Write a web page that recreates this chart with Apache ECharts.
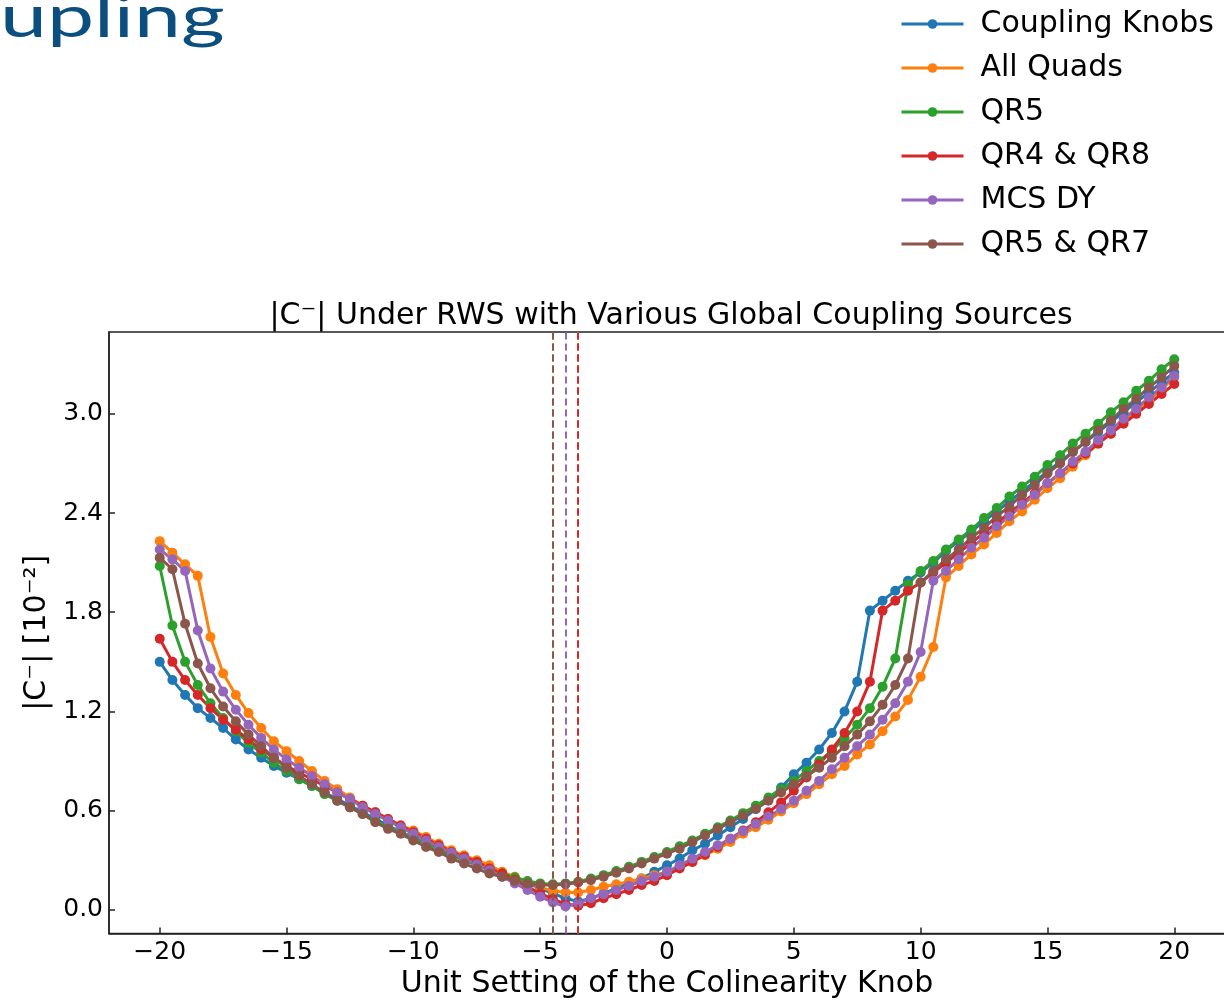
<!DOCTYPE html>
<html>
<head>
<meta charset="utf-8">
<script src="https://cdn.jsdelivr.net/npm/echarts@6/dist/echarts.min.js"></script>
<style>
  html, body { margin: 0; padding: 0; background: #fff; }
  #chart { width: 1224px; height: 1000px; }
</style>
</head>
<body>
<div id="chart"></div>
<script>
// Knob settings (unit steps of the colinearity knob)
const knob = [-20,-19.5,-19,-18.5,-18,-17.5,-17,-16.5,-16,-15.5,-15,-14.5,-14,-13.5,-13,-12.5,-12,-11.5,-11,-10.5,
  -10,-9.5,-9,-8.5,-8,-7.5,-7,-6.5,-6,-5.5,-5,-4.5,-4,-3.5,-3,-2.5,-2,-1.5,-1,-0.5,
  0,0.5,1,1.5,2,2.5,3,3.5,4,4.5,5,5.5,6,6.5,7,7.5,8,8.5,9,9.5,
  10,10.5,11,11.5,12,12.5,13,13.5,14,14.5,15,15.5,16,16.5,17,17.5,18,18.5,19,19.5,20];

// |C-| in units of 1e-2 for each coupling source
const couplingKnobs = [1.50,1.39,1.30,1.22,1.16,1.10,1.03,0.97,0.92,0.87,0.83,0.79,0.75,0.71,0.67,0.63,0.59,0.55,0.51,0.47,
  0.44,0.40,0.37,0.34,0.31,0.28,0.25,0.22,0.19,0.16,0.13,0.10,0.07,0.05,0.07,0.10,0.13,0.16,0.19,0.23,
  0.27,0.31,0.36,0.40,0.45,0.50,0.55,0.61,0.67,0.74,0.82,0.89,0.97,1.07,1.20,1.38,1.81,1.87,1.93,1.99,
  2.04,2.10,2.17,2.23,2.29,2.35,2.41,2.47,2.53,2.59,2.65,2.71,2.77,2.83,2.89,2.95,3.01,3.07,3.13,3.19,3.25];

const allQuads = [2.23,2.16,2.09,2.02,1.65,1.43,1.30,1.19,1.10,1.02,0.96,0.90,0.84,0.78,0.73,0.68,0.63,0.59,0.55,0.51,
  0.48,0.44,0.40,0.36,0.33,0.30,0.27,0.23,0.20,0.17,0.135,0.115,0.105,0.105,0.12,0.14,0.155,0.17,0.19,0.21,
  0.23,0.26,0.29,0.33,0.37,0.41,0.46,0.50,0.545,0.595,0.645,0.70,0.76,0.82,0.87,0.94,1.00,1.08,1.17,1.27,
  1.41,1.59,2.01,2.08,2.15,2.21,2.28,2.35,2.41,2.48,2.55,2.61,2.68,2.75,2.82,2.88,2.95,3.02,3.08,3.15,3.22];

const qr5 = [2.08,1.72,1.50,1.36,1.25,1.16,1.08,1.01,0.95,0.89,0.84,0.79,0.75,0.70,0.66,0.62,0.58,0.54,0.50,0.47,
  0.43,0.40,0.36,0.33,0.30,0.27,0.245,0.22,0.195,0.175,0.16,0.155,0.16,0.17,0.19,0.21,0.235,0.26,0.29,0.32,
  0.35,0.385,0.42,0.46,0.50,0.54,0.585,0.63,0.68,0.73,0.78,0.84,0.90,0.96,1.04,1.12,1.22,1.35,1.52,1.97,
  2.05,2.11,2.18,2.24,2.30,2.37,2.43,2.50,2.56,2.62,2.69,2.75,2.82,2.88,2.94,3.01,3.07,3.14,3.20,3.27,3.33];

const qr4qr8 = [1.64,1.50,1.39,1.30,1.22,1.15,1.09,1.03,0.97,0.92,0.87,0.83,0.79,0.75,0.71,0.67,0.63,0.59,0.55,0.51,
  0.47,0.43,0.39,0.35,0.32,0.29,0.25,0.22,0.18,0.14,0.10,0.065,0.035,0.025,0.04,0.07,0.095,0.12,0.15,0.175,
  0.21,0.25,0.29,0.335,0.38,0.43,0.48,0.53,0.59,0.65,0.72,0.80,0.88,0.97,1.07,1.20,1.38,1.81,1.87,1.93,
  1.98,2.04,2.10,2.16,2.22,2.28,2.34,2.40,2.46,2.52,2.58,2.64,2.70,2.76,2.82,2.88,2.94,3.00,3.06,3.12,3.18];

const mcsDy = [2.18,2.12,2.05,1.69,1.46,1.32,1.21,1.12,1.04,0.97,0.91,0.86,0.81,0.76,0.71,0.67,0.62,0.58,0.54,0.50,
  0.46,0.42,0.38,0.345,0.31,0.275,0.24,0.20,0.16,0.12,0.08,0.045,0.02,0.04,0.07,0.095,0.12,0.145,0.175,0.20,
  0.23,0.27,0.31,0.35,0.39,0.43,0.475,0.52,0.565,0.61,0.66,0.72,0.78,0.85,0.92,0.99,1.06,1.15,1.25,1.38,
  1.56,1.99,2.05,2.12,2.19,2.25,2.32,2.38,2.45,2.51,2.58,2.64,2.71,2.77,2.84,2.90,2.97,3.03,3.10,3.16,3.23];

const qr5qr7 = [2.13,2.06,1.73,1.49,1.34,1.23,1.14,1.06,0.99,0.92,0.86,0.81,0.76,0.71,0.66,0.62,0.58,0.53,0.49,0.46,
  0.42,0.38,0.35,0.31,0.28,0.25,0.22,0.20,0.175,0.16,0.15,0.15,0.155,0.165,0.18,0.20,0.225,0.25,0.28,0.31,
  0.34,0.37,0.41,0.45,0.49,0.53,0.57,0.61,0.66,0.71,0.76,0.81,0.86,0.92,0.99,1.06,1.14,1.24,1.36,1.52,
  1.98,2.05,2.12,2.18,2.25,2.31,2.38,2.44,2.51,2.57,2.64,2.70,2.77,2.83,2.90,2.96,3.03,3.09,3.16,3.22,3.29];

const seriesNames = ['Coupling Knobs', 'All Quads', 'QR5', 'QR4 & QR8', 'MCS DY', 'QR5 & QR7'];
const seriesValues = [couplingKnobs, allQuads, qr5, qr4qr8, mcsDy, qr5qr7];
// Knob setting of the minimum for each source
const minima = [-3.5, -3.5, -4.5, -3.5, -4, -4.5];
const colors = ['#1f77b4', '#ff7f0e', '#2ca02c', '#d62728', '#9467bd', '#8c564b'];

const xTicks = [-20, -15, -10, -5, 0, 5, 10, 15, 20];
const yTicks = [0, 0.6, 1.2, 1.8, 2.4, 3.0];

const FONT = 'DejaVu Sans';
const chart = echarts.init(document.getElementById('chart'), null, { renderer: 'canvas' });

const series = seriesNames.map((name, i) => ({
  name,
  type: 'line',
  data: knob.map((x, j) => [x, seriesValues[i][j]]),
  symbol: 'circle',
  symbolSize: 10,
  showSymbol: true,
  lineStyle: { width: 3, color: colors[i] },
  itemStyle: { color: colors[i] },
  emphasis: { disabled: true },
  markLine: {
    silent: true,
    symbol: ['none', 'none'],
    label: { show: false },
    lineStyle: { type: [7, 4], width: 2, color: colors[i], opacity: 1 },
    emphasis: { disabled: true },
    data: [{ xAxis: minima[i] }]
  }
}));

chart.setOption({
  animation: false,
  backgroundColor: '#fff',
  color: colors,
  title: {
    text: '|C\u207B| Under RWS with Various Global Coupling Sources',
    left: 666,
    textAlign: 'center',
    top: 296,
    textStyle: { fontFamily: FONT, fontSize: 30, fontWeight: 'normal', color: '#000' }
  },
  legend: {
    data: seriesNames,
    orient: 'vertical',
    left: 895,
    top: 4,
    itemWidth: 62,
    itemHeight: 12,
    itemGap: 14,
    lineStyle: { width: 3 },
    textStyle: { fontFamily: FONT, fontSize: 30, color: '#000', lineHeight: 30, padding: [0, 0, 0, 12] }
  },
  graphic: [{
    type: 'text',
    x: 0,
    y: 18,
    scaleX: 1.45,
    style: { text: 'upling', font: '58px Lato', fill: '#0b4e80', verticalAlign: 'middle' }
  }],
  grid: {
    left: 109, right: -1, top: 332, bottom: 66.5,
    outerBoundsMode: 'none',
    containLabel: false,
    show: true, borderColor: '#222', borderWidth: 1.5, backgroundColor: 'transparent'
  },
  xAxis: {
    type: 'value',
    min: -22, max: 22,
    name: 'Unit Setting of the Colinearity Knob',
    nameLocation: 'middle',
    nameGap: 36,
    nameTextStyle: { fontFamily: FONT, fontSize: 30, color: '#000' },
    axisLine: { show: true, onZero: false, lineStyle: { color: '#222', width: 1.5 } },
    axisTick: { show: true, inside: true, length: 6, customValues: xTicks, lineStyle: { color: '#222', width: 1.5 } },
    axisLabel: {
      customValues: xTicks, margin: 6,
      fontFamily: FONT, fontSize: 25, color: '#000',
      formatter: v => (v < 0 ? '\u2212' + Math.abs(v) : String(v))
    },
    splitLine: { show: false }
  },
  yAxis: {
    type: 'value',
    min: -0.143, max: 3.495,
    name: '|C\u207B| [10\u207B\u00B2]',
    nameLocation: 'middle',
    nameGap: 55,
    nameRotate: 90,
    nameTextStyle: { fontFamily: FONT, fontSize: 30, color: '#000' },
    axisLine: { show: true, onZero: false, lineStyle: { color: '#222', width: 1.5 } },
    axisTick: { show: true, inside: true, length: 6, customValues: yTicks, lineStyle: { color: '#222', width: 1.5 } },
    axisLabel: {
      customValues: yTicks, margin: 6,
      fontFamily: FONT, fontSize: 25, color: '#000',
      formatter: v => v.toFixed(1)
    },
    splitLine: { show: false }
  },
  series
});
</script>
</body>
</html>
